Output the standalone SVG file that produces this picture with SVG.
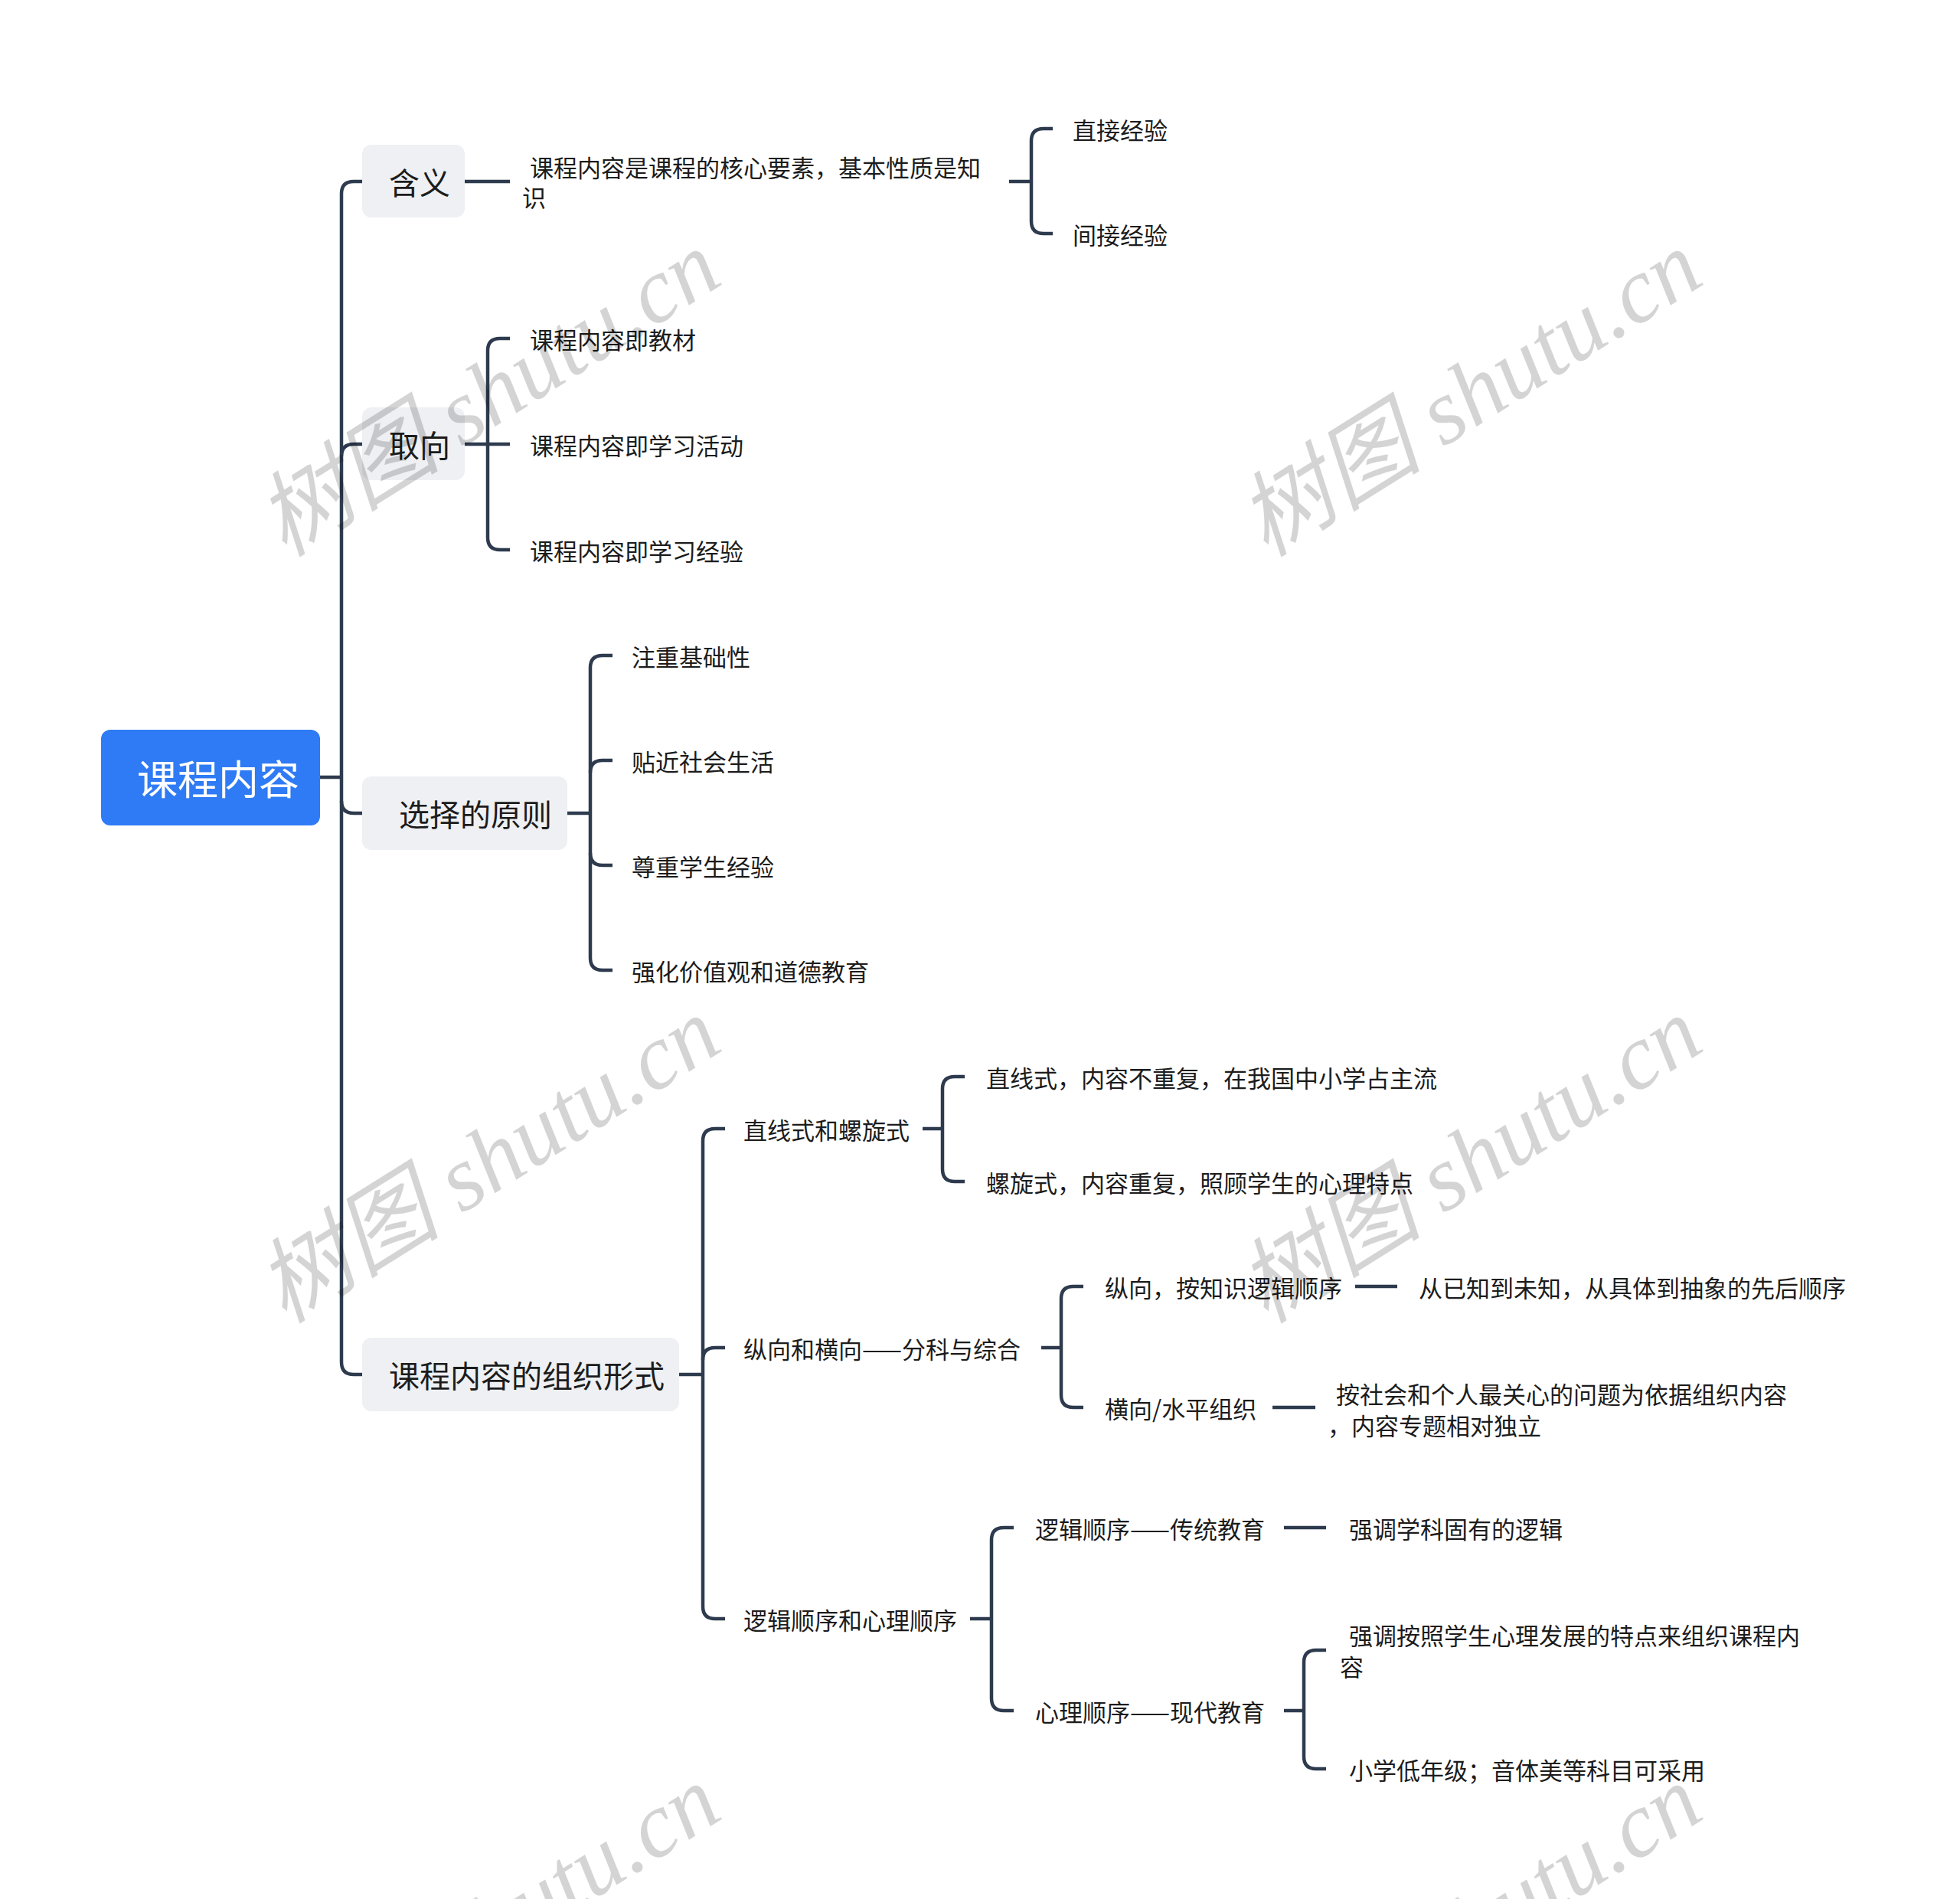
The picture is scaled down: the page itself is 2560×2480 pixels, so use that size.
<svg xmlns="http://www.w3.org/2000/svg" width="2560" height="2480" viewBox="0 0 2560 2480">
<style>
.ln{fill:none;stroke:#2e3b4e;stroke-width:4.5;stroke-linecap:butt}
.t{font-family:"Noto Sans CJK SC","Liberation Sans",sans-serif;fill:#1c1c1c;dominant-baseline:central}
.t2{font-size:31px}
.t1{font-size:40px;text-anchor:middle}
.root{font-size:53px;fill:#ffffff;text-anchor:middle}
.box1{fill:#eef0f3}
.wm{font-family:"Liberation Serif","Noto Sans CJK SC",serif;font-style:italic;font-size:121px;fill:#000;fill-opacity:0.17;text-anchor:middle;dominant-baseline:central}
</style>
<rect width="2560" height="2480" fill="#ffffff"/>
<g id="connectors">
<path class="ln" d="M418,1015 H446"/>
<path class="ln" d="M473,237 H462 Q446,237 446,253 V1779 Q446,1795 462,1795 H473"/>
<path class="ln" d="M446,596 Q446,580 462,580 H473"/>
<path class="ln" d="M446,1046 Q446,1062 462,1062 H473"/>
<path class="ln" d="M607,237 H666"/>
<path class="ln" d="M1318,237 H1347"/>
<path class="ln" d="M1375,168 H1363 Q1347,168 1347,184 V289 Q1347,305 1363,305 H1375"/>
<path class="ln" d="M607,580 H666"/>
<path class="ln" d="M666,442 H653 Q637,442 637,458 V702 Q637,718 653,718 H666"/>
<path class="ln" d="M741,1062 H771"/>
<path class="ln" d="M800,856 H787 Q771,856 771,872 V1251 Q771,1267 787,1267 H800"/>
<path class="ln" d="M771,1009 Q771,993 787,993 H800"/>
<path class="ln" d="M771,1114 Q771,1130 787,1130 H800"/>
<path class="ln" d="M887,1795 H918"/>
<path class="ln" d="M947,1474 H934 Q918,1474 918,1490 V2098 Q918,2114 934,2114 H947"/>
<path class="ln" d="M918,1776 Q918,1760 934,1760 H947"/>
<path class="ln" d="M1205,1474 H1231"/>
<path class="ln" d="M1260,1406 H1247 Q1231,1406 1231,1422 V1527 Q1231,1543 1247,1543 H1260"/>
<path class="ln" d="M1360,1760 H1386"/>
<path class="ln" d="M1415,1680 H1402 Q1386,1680 1386,1696 V1822 Q1386,1838 1402,1838 H1415"/>
<path class="ln" d="M1770,1680 H1825"/>
<path class="ln" d="M1662,1838 H1718"/>
<path class="ln" d="M1267,2114 H1295"/>
<path class="ln" d="M1324,1995 H1311 Q1295,1995 1295,2011 V2218 Q1295,2234 1311,2234 H1324"/>
<path class="ln" d="M1677,1995 H1732"/>
<path class="ln" d="M1677,2234 H1703"/>
<path class="ln" d="M1732,2155 H1719 Q1703,2155 1703,2171 V2294 Q1703,2310 1719,2310 H1732"/>
</g>
<g id="root">
<rect x="132" y="953" width="286" height="125" rx="12" fill="#2f7bf5"/>
<text class="t root" x="285" y="1015">课程内容</text>
</g>
<g id="n-hanyi">
<rect class="box1" x="473" y="189" width="134" height="95" rx="12"/>
<text class="t t1" x="548" y="237">含义</text>
</g>
<g id="n-hanyi-def">
<text class="t t2" x="692" y="217">课程内容是课程的核心要素，基本性质是知</text>
<text class="t t2" x="682" y="256">识</text>
</g>
<g id="n-zhijie"><text class="t t2" x="1401" y="168">直接经验</text></g>
<g id="n-jianjie"><text class="t t2" x="1401" y="305">间接经验</text></g>
<g id="n-quxiang">
<rect class="box1" x="473" y="532" width="134" height="95" rx="12"/>
<text class="t t1" x="548" y="580">取向</text>
</g>
<g id="n-qx1"><text class="t t2" x="692" y="442">课程内容即教材</text></g>
<g id="n-qx2"><text class="t t2" x="692" y="580">课程内容即学习活动</text></g>
<g id="n-qx3"><text class="t t2" x="692" y="718">课程内容即学习经验</text></g>
<g id="n-yuanze">
<rect class="box1" x="473" y="1014" width="268" height="96" rx="12"/>
<text class="t t1" x="621" y="1062">选择的原则</text>
</g>
<g id="n-yz1"><text class="t t2" x="825" y="856">注重基础性</text></g>
<g id="n-yz2"><text class="t t2" x="825" y="993">贴近社会生活</text></g>
<g id="n-yz3"><text class="t t2" x="825" y="1130">尊重学生经验</text></g>
<g id="n-yz4"><text class="t t2" x="825" y="1267">强化价值观和道德教育</text></g>
<g id="n-zuzhi">
<rect class="box1" x="473" y="1747" width="414" height="96" rx="12"/>
<text class="t t1" x="688" y="1795">课程内容的组织形式</text>
</g>
<g id="n-zx"><text class="t t2" x="971" y="1474">直线式和螺旋式</text></g>
<g id="n-zx1"><text class="t t2" x="1288" y="1406">直线式，内容不重复，在我国中小学占主流</text></g>
<g id="n-zx2"><text class="t t2" x="1288" y="1543">螺旋式，内容重复，照顾学生的心理特点</text></g>
<g id="n-zh"><text class="t t2" x="971" y="1760">纵向和横向——分科与综合</text></g>
<g id="n-zh1"><text class="t t2" x="1443" y="1680">纵向，按知识逻辑顺序</text></g>
<g id="n-zh1a"><text class="t t2" x="1853" y="1680">从已知到未知，从具体到抽象的先后顺序</text></g>
<g id="n-zh2"><text class="t t2" x="1443" y="1838">横向/水平组织</text></g>
<g id="n-zh2a">
<text class="t t2" x="1745" y="1819">按社会和个人最关心的问题为依据组织内容</text>
<text class="t t2" x="1734" y="1860">，内容专题相对独立</text>
</g>
<g id="n-lx"><text class="t t2" x="971" y="2114">逻辑顺序和心理顺序</text></g>
<g id="n-lx1"><text class="t t2" x="1352" y="1995">逻辑顺序——传统教育</text></g>
<g id="n-lx1a"><text class="t t2" x="1762" y="1995">强调学科固有的逻辑</text></g>
<g id="n-lx2"><text class="t t2" x="1352" y="2234">心理顺序——现代教育</text></g>
<g id="n-lx2a">
<text class="t t2" x="1762" y="2134">强调按照学生心理发展的特点来组织课程内</text>
<text class="t t2" x="1750" y="2175">容</text>
</g>
<g id="n-lx2b"><text class="t t2" x="1762" y="2310">小学低年级；音体美等科目可采用</text></g>
<g id="watermarks">
<text class="wm" transform="translate(638,514) rotate(-32)">树图 shutu.cn</text>
<text class="wm" transform="translate(1920,514) rotate(-32)">树图 shutu.cn</text>
<text class="wm" transform="translate(638,1515) rotate(-32)">树图 shutu.cn</text>
<text class="wm" transform="translate(1920,1515) rotate(-32)">树图 shutu.cn</text>
<text class="wm" transform="translate(638,2518) rotate(-32)">树图 shutu.cn</text>
<text class="wm" transform="translate(1920,2518) rotate(-32)">树图 shutu.cn</text>
</g>
</svg>
